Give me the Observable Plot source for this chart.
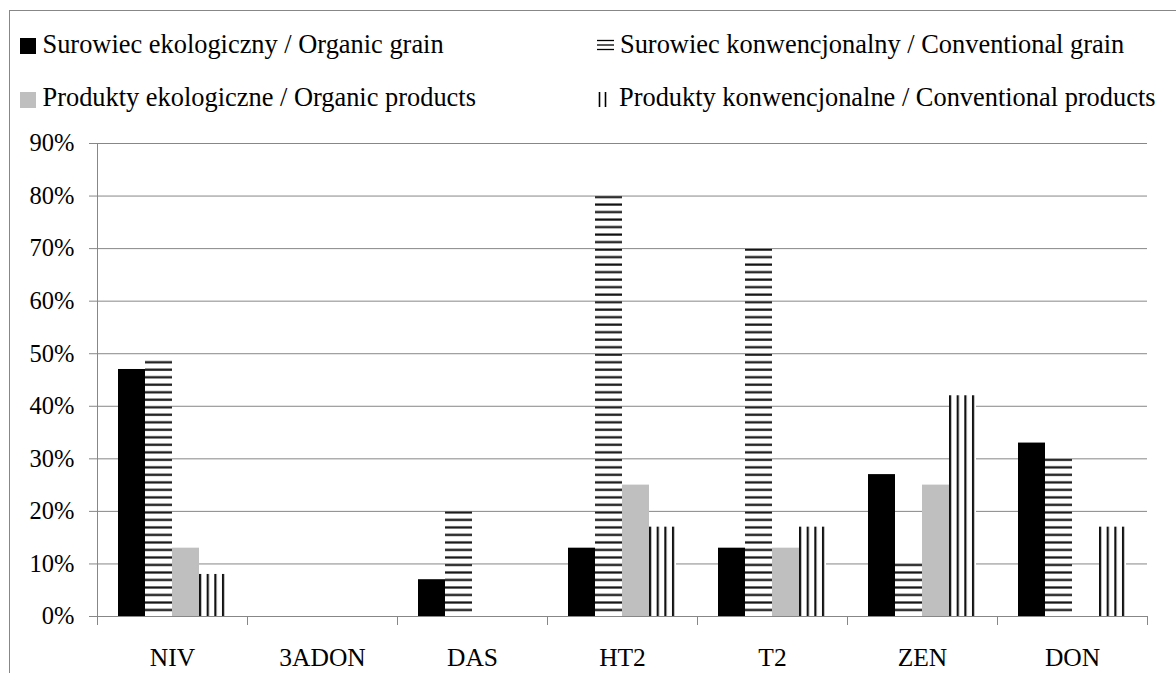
<!DOCTYPE html>
<html><head><meta charset="utf-8">
<script src="https://cdn.jsdelivr.net/npm/d3@7"></script>
<script src="https://cdn.jsdelivr.net/npm/@observablehq/plot@0.6"></script>
<style>
html,body{margin:0;padding:0;background:#fff;width:1176px;height:673px;overflow:hidden;}
#page{position:relative;width:1176px;height:673px;font-family:"Liberation Serif","Times New Roman",serif;}
#border{position:absolute;left:9px;top:10px;width:1300px;height:800px;border:1px solid #878787;box-sizing:border-box;pointer-events:none;}
#legend{position:absolute;left:0;top:0;}
#chart{position:absolute;left:0;top:120px;}
</style></head><body>
<div id="page"><div id="border"></div><svg id="legend" width="1176" height="120"></svg><div id="chart"></div></div>
<script>
// ---- data ----
const categories = ["NIV", "3ADON", "DAS", "HT2", "T2", "ZEN", "DON"];
const seriesKeys = ["organicGrain", "conventionalGrain", "organicProducts", "conventionalProducts"];
const seriesLabels = [
  "Surowiec ekologiczny / Organic grain",
  "Surowiec konwencjonalny / Conventional grain",
  "Produkty ekologiczne / Organic products",
  "Produkty konwencjonalne / Conventional products"
];
const organicGrain = [47, 0, 7, 13, 13, 27, 33];
const conventionalGrain = [49, 0, 20, 80, 70, 10, 30];
const organicProducts = [13, 0, 0, 25, 13, 25, 0];
const conventionalProducts = [8, 0, 0, 17, 17, 42, 17];
const yTicks = [0, 10, 20, 30, 40, 50, 60, 70, 80, 90];

const seriesValues = [organicGrain, conventionalGrain, organicProducts, conventionalProducts];
const data = categories.flatMap((c, i) => seriesKeys.map((s, j) => ({category: c, series: s, value: seriesValues[j][i]})));

const GRID = "#878787";
const FONT = '"Liberation Serif", "Times New Roman", serif';

// ---- legend ----
const lg = d3.select("#legend").style("font-family", FONT).style("font-size", "26.4px");
lg.append("rect").attr("x", 20).attr("y", 38).attr("width", 16).attr("height", 16).attr("fill", "#000");
lg.append("text").attr("x", 42.5).attr("y", 53).text(seriesLabels[0]);
lg.append("rect").attr("x", 20).attr("y", 92).attr("width", 16).attr("height", 16).attr("fill", "#bfbfbf");
lg.append("text").attr("x", 42.5).attr("y", 106).text(seriesLabels[2]);
const sym1 = lg.append("g").attr("stroke", "#000").attr("stroke-width", 1.3);
[40.5, 45, 49.5].forEach(y => sym1.append("line").attr("x1", 597).attr("x2", 614).attr("y1", y).attr("y2", y));
lg.append("text").attr("x", 620).attr("y", 53).text(seriesLabels[1]);
const sym2 = lg.append("g").attr("stroke", "#000").attr("stroke-width", 1.6);
[599.5, 605.5].forEach(x => sym2.append("line").attr("x1", x).attr("x2", x).attr("y1", 92).attr("y2", 107));
lg.append("text").attr("x", 619).attr("y", 106).text(seriesLabels[3]);

// ---- boundary ticks under the category axis ----
function boundaryTicks(index, scales, values, dims) {
  const g = d3.create("svg:g").attr("stroke", GRID).attr("class", "btick");
  const y0 = dims.height - dims.marginBottom;
  for (const x of [dims.marginLeft, dims.width - dims.marginRight]) {
    g.append("line").attr("x1", Math.round(x) + 0.5).attr("x2", Math.round(x) + 0.5)
      .attr("y1", y0).attr("y2", y0 + 9);
  }
  return g.node();
}

const chart = Plot.plot({
  width: 1176, height: 553,
  marginLeft: 97, marginRight: 29, marginTop: 23, marginBottom: 57,
  style: {fontFamily: FONT, fontSize: "25px", color: "#000", background: "transparent", overflow: "visible"},
  fx: {domain: categories, padding: 0, label: null},
  x: {domain: seriesKeys, paddingInner: 0, paddingOuter: 0.72, axis: null},
  y: {domain: [0, 90], label: null},
  color: {domain: seriesKeys, range: ["#000000", "url(#hstripes)", "#bfbfbf", "url(#vstripes)"]},
  marks: [
    Plot.gridY(yTicks, {stroke: GRID, strokeOpacity: 1}),
    Plot.axisY(yTicks, {tickSize: 8, tickPadding: 15, tickFormat: d => d + "%", stroke: GRID, fontSize: 24.5, label: null}),
    Plot.frame({anchor: "left", facetAnchor: "left", stroke: GRID}),
    boundaryTicks,
    Plot.barY(data, {fx: "category", x: "series", y: "value", fill: "series"}),
    Plot.ruleY([0], {stroke: GRID}),
    Plot.axisFx({anchor: "bottom", tickSize: 0, tickPadding: 31, fontSize: 25.5, label: null})
  ]
});

// ---- patterns ----
const yScale = chart.scale("y");
const yTop = yScale.apply(yTicks[yTicks.length - 1]);
const period = (yScale.apply(0) - yScale.apply(yTicks[1])) / 7;
const svg = d3.select(chart);
const defs = svg.insert("defs", ":first-child");
const hp = defs.append("pattern").attr("id", "hstripes").attr("patternUnits", "userSpaceOnUse")
  .attr("y", yTop).attr("width", 10).attr("height", period);
hp.append("rect").attr("width", 10).attr("height", period).attr("fill", "#fff");
hp.append("rect").attr("y", 0.4).attr("width", 10).attr("height", 2.2).attr("fill", "#111");
const vRect = chart.querySelector('rect[fill="url(#vstripes)"]');
const vx = vRect ? +vRect.getAttribute("x") : 0;
const vp = defs.append("pattern").attr("id", "vstripes").attr("patternUnits", "userSpaceOnUse")
  .attr("x", vx).attr("width", 7.65).attr("height", 10);
vp.append("rect").attr("width", 7.65).attr("height", 10).attr("fill", "#fff");
vp.append("rect").attr("x", 0).attr("width", 2.2).attr("height", 10).attr("fill", "#111");

document.getElementById("chart").appendChild(chart);
</script>
</body></html>
